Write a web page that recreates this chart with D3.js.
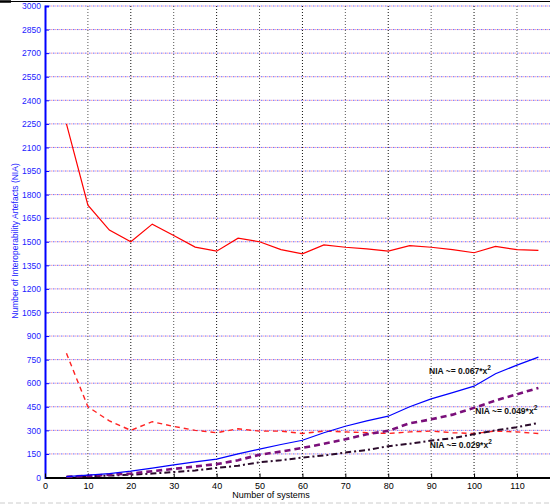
<!DOCTYPE html>
<html>
<head>
<meta charset="utf-8">
<script src="https://cdn.jsdelivr.net/npm/d3@7"></script>
<style>
  body { margin: 0; background: #fff; }
  svg { display: block; font-family: "Liberation Sans", Arial, sans-serif; }
</style>
</head>
<body>
<svg id="chart" width="550" height="504"></svg>
<script>
// number of systems
const systems = [5, 10, 15, 20, 25, 30, 35, 40, 45, 50, 55, 60, 65, 70, 75, 80, 85, 90, 95, 100, 105, 110, 115];

// measured / estimated NIA series
const niaUpper = [2250, 1733, 1574, 1500, 1612, 1540, 1466, 1440, 1523, 1500, 1450, 1423, 1480, 1465, 1455, 1440, 1475, 1465, 1450, 1430, 1470, 1450, 1445];
const niaLower = [790, 450, 360, 300, 355, 325, 300, 285, 310, 295, 295, 280, 295, 290, 285, 280, 290, 295, 285, 280, 295, 290, 280];
const nia067 = [5, 15, 25, 40, 60, 80, 100, 117, 150, 180, 210, 237, 285, 326, 360, 390, 450, 500, 540, 581, 660, 715, 766];
const nia049 = [5, 10, 18, 25, 40, 55, 70, 85, 110, 145, 165, 188, 215, 243, 275, 297, 345, 370, 400, 443, 490, 530, 570];
const nia029 = [3, 8, 12, 18, 25, 35, 45, 61, 75, 97, 110, 127, 140, 159, 175, 199, 215, 235, 250, 276, 300, 320, 347];

const xTicks = [0, 10, 20, 30, 40, 50, 60, 70, 80, 90, 100, 110];
const yTicks = d3.range(0, 3001, 150);

const svg = d3.select("#chart");
const mLeft = 45, mRight = 550, mTop = 6, mBottom = 477.5;

const x = d3.scaleLinear().domain([0, 117.7]).range([mLeft, mRight]);
const y = d3.scaleLinear().domain([0, 3000]).range([mBottom, mTop]);

// frame bits at the very top and bottom
svg.append("line").attr("x1", 0).attr("x2", 550).attr("y1", 1.5).attr("y2", 1.5)
  .attr("stroke", "#000").attr("stroke-width", 1.2);
svg.append("line").attr("x1", 0).attr("x2", 11).attr("y1", 1.5).attr("y2", 1.5)
  .attr("stroke", "#000").attr("stroke-width", 2.5);
svg.append("line").attr("x1", 0).attr("x2", 550).attr("y1", 503).attr("y2", 503)
  .attr("stroke", "#ccc").attr("stroke-width", 1).attr("stroke-dasharray", "5,3");

// horizontal grid: blue and red dots alternating
const hgrid = svg.append("g");
const hVals = yTicks.filter(d => d > 0);
hgrid.selectAll("line.b").data(hVals).enter().append("line")
  .attr("class", "b")
  .attr("x1", mLeft).attr("x2", mRight)
  .attr("y1", d => y(d)).attr("y2", d => y(d))
  .attr("stroke", "#6a6aff").attr("stroke-width", 1).attr("stroke-dasharray", "1.5,2.5");
hgrid.selectAll("line.r").data(hVals).enter().append("line")
  .attr("class", "r")
  .attr("x1", mLeft + 2).attr("x2", mRight)
  .attr("y1", d => y(d)).attr("y2", d => y(d))
  .attr("stroke", "#f59aa8").attr("stroke-width", 1).attr("stroke-dasharray", "1.5,2.5");

// vertical grid
svg.append("g").selectAll("line").data(xTicks.filter(d => d > 0)).enter().append("line")
  .attr("x1", d => x(d)).attr("x2", d => x(d))
  .attr("y1", mTop).attr("y2", mBottom)
  .attr("stroke", d => (d % 20 === 0 ? "#111" : "#555"))
  .attr("stroke-width", 1).attr("stroke-dasharray", "1,2");

// axes
const yAxis = svg.append("g")
  .attr("transform", `translate(${mLeft},0)`)
  .call(d3.axisLeft(y).tickValues(yTicks).tickFormat(d3.format("d")).tickSize(-4).tickPadding(4));
yAxis.select(".domain").attr("stroke", "#00f").attr("stroke-width", 2);
yAxis.selectAll(".tick line").attr("stroke", "#00f");
yAxis.selectAll(".tick text").attr("fill", "#22f").attr("font-size", 8.5)
  .attr("font-family", "Liberation Sans, Arial, sans-serif");

const xAxis = svg.append("g")
  .attr("transform", `translate(0,${mBottom})`)
  .call(d3.axisBottom(x).tickValues(xTicks).tickSize(-4).tickPadding(5).tickSizeOuter(0));
xAxis.select(".domain").attr("stroke", "#000").attr("stroke-width", 2);
xAxis.selectAll(".tick line").attr("stroke", "#000");
xAxis.selectAll(".tick text").attr("fill", "#000").attr("font-size", 9)
  .attr("font-family", "Liberation Sans, Arial, sans-serif");

// axis titles
svg.append("text").attr("x", 271).attr("y", 498).attr("text-anchor", "middle")
  .attr("font-size", 9).attr("fill", "#000").text("Number of systems");
svg.append("text").attr("transform", "translate(18,241) rotate(-90)")
  .attr("text-anchor", "middle").attr("font-size", 8.5).attr("fill", "#22f")
  .text("Number of Interoperability Artefacts (NIA)");

// series
const line = d3.line().x((d, i) => x(systems[i])).y(d => y(d));
const series = [
  { values: niaUpper, color: "#f00", width: 1.2, dash: null },
  { values: niaLower, color: "#f22", width: 1.4, dash: "5,4" },
  { values: nia029, color: "#2a0a2a", width: 2, dash: "6,3,2,3" },
  { values: nia049, color: "#7a0f7a", width: 2.6, dash: "6,4" },
  { values: nia067, color: "#00f", width: 1.2, dash: null }
];
svg.append("g").selectAll("path").data(series).enter().append("path")
  .attr("d", d => line(d.values))
  .attr("fill", "none")
  .attr("stroke", d => d.color)
  .attr("stroke-width", d => d.width)
  .attr("stroke-dasharray", d => d.dash);

// fit annotations
const notes = [
  { text: "NIA ~= 0.067*x", at: [89.5, 660] },
  { text: "NIA ~= 0.049*x", at: [100.3, 405] },
  { text: "NIA ~= 0.029*x", at: [89.7, 190] }
];
const note = svg.append("g").selectAll("text").data(notes).enter().append("text")
  .attr("x", d => x(d.at[0])).attr("y", d => y(d.at[1]))
  .attr("font-size", 8.5).attr("font-weight", "bold").attr("fill", "#111");
note.append("tspan").text(d => d.text);
note.append("tspan").attr("dy", -4).attr("font-size", 6.5).text("2");
</script>
</body>
</html>
